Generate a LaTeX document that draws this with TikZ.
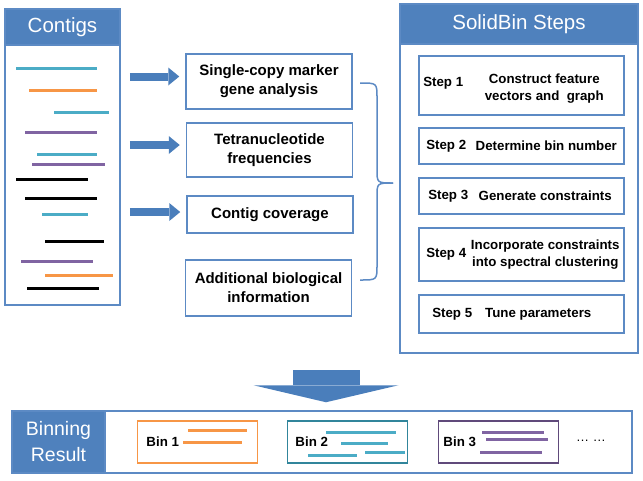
\documentclass[tikz,border=0pt]{standalone}
\usepackage{fontspec}
\setmainfont{Liberation Sans}
\usetikzlibrary{arrows.meta,positioning}
\definecolor{headblue}{RGB}{79,129,189}
\definecolor{edgeblue}{RGB}{92,138,196}
\definecolor{arrowblue}{RGB}{74,126,187}
\definecolor{readteal}{RGB}{75,172,198}
\definecolor{readorange}{RGB}{247,150,70}
\definecolor{readpurple}{RGB}{128,100,162}
\definecolor{binteal}{RGB}{49,133,155}
\definecolor{binpurple}{RGB}{96,74,123}

\begin{document}
\begin{tikzpicture}[x=1pt,y=-1pt,
  panel/.style={draw=edgeblue,line width=1.5pt,inner sep=0pt},
  header/.style={fill=headblue,draw=edgeblue,line width=1.5pt,text=white,inner sep=0pt,font=\fontsize{20.5}{24}\selectfont},
  featbox/.style={draw=edgeblue,line width=1.5pt,minimum width=166pt,align=center,inner sep=0pt,font=\fontsize{15}{19}\selectfont\bfseries},
  stepbox/.style={draw=edgeblue,line width=1.5pt,minimum width=205pt,inner sep=0pt},
  steptxt/.style={align=center,inner sep=0pt,font=\fontsize{13.3}{17.5}\selectfont\bfseries},
  binbox/.style={line width=1.5pt,minimum width=120pt,minimum height=42pt,inner sep=0pt},
  read/.style={line width=3pt},
  fatarrow/.style={draw=arrowblue,line width=8pt,-{Triangle[length=11pt,width=18pt,line width=0pt]}},
  downarrow/.style={draw=arrowblue,line width=67pt,-{Triangle[length=17pt,width=145pt,line width=0pt]}},
  brace/.style={draw=edgeblue,line width=1.5pt}]
\useasboundingbox (0,0) rectangle (643,480);

% Contigs
\node[panel,minimum width=115pt,minimum height=296pt] (contigs) at (62.5,157) {};
\node[header,minimum width=115pt,minimum height=36pt] (contigshead) at (62.5,27) {Contigs};
\draw[read,readteal] (16,68) -- (97,68);
\draw[read,readorange] (29,90) -- (97,90);
\draw[read,readteal] (54,112) -- (109,112);
\draw[read,readpurple] (25,132) -- (97,132);
\draw[read,readteal] (37,154) -- (97,154);
\draw[read,readpurple] (32,164) -- (105,164);
\draw[read,black] (16,179) -- (88,179);
\draw[read,black] (25,198) -- (97,198);
\draw[read,readteal] (42,214) -- (88,214);
\draw[read,black] (45,241) -- (104,241);
\draw[read,readpurple] (21,261) -- (93,261);
\draw[read,readorange] (45,275) -- (113,275);
\draw[read,black] (27,288) -- (99,288);

% Features
\node[featbox,minimum height=55pt] (f1) at (269,81.5) {Single-copy marker\\gene analysis};
\node[featbox,minimum height=54pt] (f2) at (269.5,150) {Tetranucleotide\\frequencies};
\node[featbox,minimum height=37pt] (f3) at (270,214.5) {Contig coverage};
\node[featbox,minimum height=56pt] (f4) at (268.5,288) {Additional biological\\information};

\coordinate (a1) at ([yshift=5pt]f1.west);
\coordinate (a2) at ([yshift=5pt]f2.west);
\coordinate (a3) at ([yshift=2.5pt]f3.west);
\draw[fatarrow,shorten <=9pt,shorten >=6pt] (a1 -| contigs.east) -- (a1);
\draw[fatarrow,shorten <=9pt,shorten >=6pt] (a2 -| contigs.east) -- (a2);
\draw[fatarrow,shorten <=9pt,shorten >=6pt] (a3 -| contigs.east) -- (a3);

% Brace
\coordinate (btop) at (360,83);
\coordinate (bbot) at (360,280);
\coordinate (btip) at (393,183);
\draw[brace] (btop) .. controls (377,83) .. (377,98) -- (377,169) .. controls (377,183) .. (btip);
\draw[brace] (bbot) .. controls (377,280) .. (377,265) -- (377,197) .. controls (377,183) .. (btip);

% SolidBin steps
\node[panel,minimum width=238pt,minimum height=349pt] (steps) at (519,178.5) {};
\node[header,minimum width=238pt,minimum height=40pt] (stepshead) at (519,24) {SolidBin Steps};

\node[stepbox,minimum height=59pt] (s1) at (521.5,85.5) {};
\node[steptxt] at ([xshift=25pt,yshift=2pt]s1.west) {Step 1};
\node[steptxt] at ([xshift=126pt,yshift=-3pt]s1.west) {Construct feature\\vectors and\ \ graph};

\node[stepbox,minimum height=36pt] (s2) at (521.5,146) {};
\node[steptxt] at ([xshift=28pt]s2.west) {Step 2};
\node[steptxt] at ([xshift=128pt]s2.west) {Determine bin number};

\node[stepbox,minimum height=36pt] (s3) at (521.5,196) {};
\node[steptxt] at ([xshift=30pt]s3.west) {Step 3};
\node[steptxt] at ([xshift=127pt]s3.west) {Generate constraints};

\node[stepbox,minimum height=53pt] (s4) at (521.5,254.5) {};
\node[steptxt] at ([xshift=28pt]s4.west) {Step 4};
\node[steptxt] at ([xshift=127pt]s4.west) {Incorporate constraints\\into spectral clustering};

\node[stepbox,minimum height=38pt] (s5) at (521.5,314) {};
\node[steptxt] at ([xshift=34pt]s5.west) {Step 5};
\node[steptxt] at ([xshift=120pt]s5.west) {Tune parameters};

% Binning result
\node[panel,minimum width=620pt,minimum height=62pt] (result) at (322,442) {};
\node[header,minimum width=93pt,minimum height=62pt,align=center,font=\fontsize{19.5}{26}\selectfont] (resulthead) at (58.5,442) {Binning\\Result};

\coordinate (dstart) at (326,370);
\draw[downarrow,shorten >=8pt] (dstart) -- (dstart |- result.north);

\node[binbox,draw=readorange] (bin1) at (197.5,442) {};
\node[steptxt] at ([xshift=26pt]bin1.west) {Bin 1};
\draw[read,readorange] (188,430) -- (247,430);
\draw[read,readorange] (183,442) -- (242,442);

\node[binbox,draw=binteal] (bin2) at (347.5,442) {};
\node[steptxt] at ([xshift=25pt]bin2.west) {Bin 2};
\draw[read,readteal] (326,432) -- (396,432);
\draw[read,readteal] (341,443) -- (388,443);
\draw[read,readteal] (365,452) -- (405,452);
\draw[read,readteal] (308,455) -- (357,455);

\node[binbox,draw=binpurple] (bin3) at (498.5,442) {};
\node[steptxt] at ([xshift=22pt]bin3.west) {Bin 3};
\draw[read,readpurple] (482,432) -- (544,432);
\draw[read,readpurple] (486,439) -- (548,439);
\draw[read,readpurple] (480,452) -- (542,452);

\node[font=\fontsize{13}{15}\selectfont] (more) at (591,441) {… …};
\end{tikzpicture}
\end{document}
